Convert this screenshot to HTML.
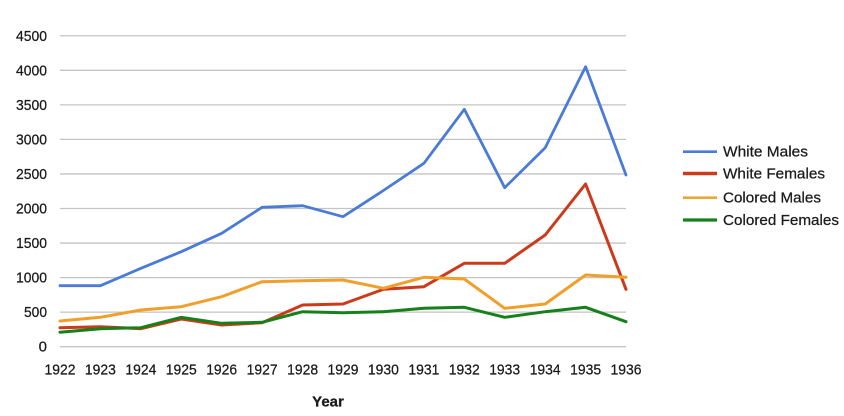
<!DOCTYPE html>
<html>
<head>
<meta charset="utf-8">
<style>
html,body{margin:0;padding:0;background:#fff;}
svg{display:block;}
text{font-family:"Liberation Sans",Arial,sans-serif;fill:#1a1a1a;stroke:#1a1a1a;stroke-width:0.25;}
</style>
</head>
<body>
<svg width="844" height="416" viewBox="0 0 844 416" xmlns="http://www.w3.org/2000/svg">
<rect width="844" height="416" fill="#fff"/>
<g stroke="#c4c4c4" stroke-width="1.3">
<line x1="60" x2="626" y1="346.7" y2="346.7"/>
<line x1="60" x2="626" y1="312.15" y2="312.15"/>
<line x1="60" x2="626" y1="277.6" y2="277.6"/>
<line x1="60" x2="626" y1="243.05" y2="243.05"/>
<line x1="60" x2="626" y1="208.5" y2="208.5"/>
<line x1="60" x2="626" y1="173.95" y2="173.95"/>
<line x1="60" x2="626" y1="139.4" y2="139.4"/>
<line x1="60" x2="626" y1="104.85" y2="104.85"/>
<line x1="60" x2="626" y1="70.3" y2="70.3"/>
<line x1="60" x2="626" y1="35.75" y2="35.75"/>
</g>
<g font-size="15" text-anchor="end">
<text x="47" y="351.7">0</text>
<text x="47" y="317.2" textLength="23" lengthAdjust="spacingAndGlyphs">500</text>
<text x="47" y="282.6" textLength="31" lengthAdjust="spacingAndGlyphs">1000</text>
<text x="47" y="248" textLength="31" lengthAdjust="spacingAndGlyphs">1500</text>
<text x="47" y="213.5" textLength="31" lengthAdjust="spacingAndGlyphs">2000</text>
<text x="47" y="179" textLength="31" lengthAdjust="spacingAndGlyphs">2500</text>
<text x="47" y="144.4" textLength="31" lengthAdjust="spacingAndGlyphs">3000</text>
<text x="47" y="109.9" textLength="31" lengthAdjust="spacingAndGlyphs">3500</text>
<text x="47" y="75.3" textLength="31" lengthAdjust="spacingAndGlyphs">4000</text>
<text x="47" y="40.8" textLength="31" lengthAdjust="spacingAndGlyphs">4500</text>
</g>
<g font-size="15" text-anchor="middle">
<text x="60" y="374.5" textLength="31" lengthAdjust="spacingAndGlyphs">1922</text>
<text x="100.4" y="374.5" textLength="31" lengthAdjust="spacingAndGlyphs">1923</text>
<text x="140.9" y="374.5" textLength="31" lengthAdjust="spacingAndGlyphs">1924</text>
<text x="181.3" y="374.5" textLength="31" lengthAdjust="spacingAndGlyphs">1925</text>
<text x="221.7" y="374.5" textLength="31" lengthAdjust="spacingAndGlyphs">1926</text>
<text x="262.1" y="374.5" textLength="31" lengthAdjust="spacingAndGlyphs">1927</text>
<text x="302.6" y="374.5" textLength="31" lengthAdjust="spacingAndGlyphs">1928</text>
<text x="343" y="374.5" textLength="31" lengthAdjust="spacingAndGlyphs">1929</text>
<text x="383.4" y="374.5" textLength="31" lengthAdjust="spacingAndGlyphs">1930</text>
<text x="423.9" y="374.5" textLength="31" lengthAdjust="spacingAndGlyphs">1931</text>
<text x="464.3" y="374.5" textLength="31" lengthAdjust="spacingAndGlyphs">1932</text>
<text x="504.7" y="374.5" textLength="31" lengthAdjust="spacingAndGlyphs">1933</text>
<text x="545.2" y="374.5" textLength="31" lengthAdjust="spacingAndGlyphs">1934</text>
<text x="585.6" y="374.5" textLength="31" lengthAdjust="spacingAndGlyphs">1935</text>
<text x="626" y="374.5" textLength="31" lengthAdjust="spacingAndGlyphs">1936</text>
</g>
<text x="328" y="406.5" font-size="15" font-weight="bold" text-anchor="middle" fill="#111">Year</text>
<g fill="none" stroke-width="3" stroke-linejoin="round" stroke-linecap="round">
<polyline stroke="#4a7bd6" stroke-width="2.8" points="60,285.7 100.4,285.7 140.9,268.3 181.3,251.7 221.7,233.3 262.1,207.3 302.6,205.7 343,216.7 383.4,190.5 423.9,163.3 464.3,109.3 504.7,187.7 545.2,147.7 585.6,66.7 626,175"/>
<polyline stroke="#cc3a1c" points="60,327.7 100.4,326.7 140.9,328.7 181.3,319 221.7,325 262.1,322.7 302.6,305 343,304 383.4,289.3 423.9,286.7 464.3,263.3 504.7,263.3 545.2,235 585.6,184 626,289.3"/>
<polyline stroke="#f0a02a" points="60,321 100.4,317.3 140.9,310 181.3,306.7 221.7,296.7 262.1,281.7 302.6,280.7 343,280 383.4,288.3 423.9,277.3 464.3,279 504.7,308.3 545.2,304 585.6,275 626,277.3"/>
<polyline stroke="#16801a" points="60,332.3 100.4,328.7 140.9,327.7 181.3,317.3 221.7,323.3 262.1,322.3 302.6,311.7 343,312.7 383.4,311.7 423.9,308.3 464.3,307.3 504.7,317.3 545.2,311.7 585.6,307.3 626,321.7"/>
</g>
<g stroke-width="3">
<line x1="683" x2="717" y1="151.7" y2="151.7" stroke="#4a7bd6" stroke-width="2.6"/>
<line x1="683" x2="717" y1="173.5" y2="173.5" stroke="#cc3a1c" stroke-width="3.5"/>
<line x1="683" x2="717" y1="197.7" y2="197.7" stroke="#e8a838" stroke-width="2.6"/>
<line x1="683" x2="717" y1="220" y2="220" stroke="#16801a" stroke-width="3.2"/>
</g>
<g font-size="14.5">
<text x="723" y="156.7" textLength="85" lengthAdjust="spacingAndGlyphs">White Males</text>
<text x="723" y="178.5" textLength="102" lengthAdjust="spacingAndGlyphs">White Females</text>
<text x="723" y="202.7" textLength="98" lengthAdjust="spacingAndGlyphs">Colored Males</text>
<text x="723" y="225" textLength="116" lengthAdjust="spacingAndGlyphs">Colored Females</text>
</g>
</svg>
</body>
</html>
